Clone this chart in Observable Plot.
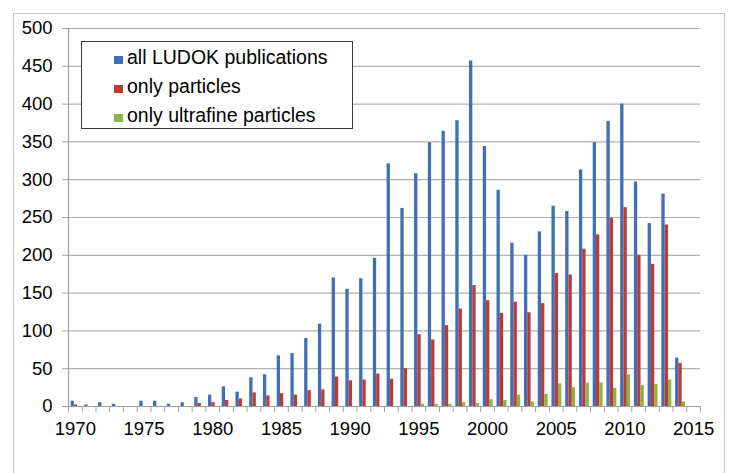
<!DOCTYPE html>
<html>
<head>
<meta charset="utf-8">
<script src="https://cdn.jsdelivr.net/npm/d3@7"></script>
<script src="https://cdn.jsdelivr.net/npm/@observablehq/plot@0.6"></script>
<style>
  html, body { margin: 0; padding: 0; background: #fff; }
  #wrap { position: relative; width: 732px; height: 473px; overflow: hidden; font-family: "Liberation Sans", Arial, sans-serif; }
  #frame { position: absolute; left: 13px; top: 13px; width: 712px; height: 500px; border: 1.5px solid #c4c4c4; box-sizing: border-box; }
  #chart { position: absolute; left: 0; top: 0; }
  #legend { position: absolute; left: 81px; top: 41px; width: 272px; height: 88px; box-sizing: border-box; border: 1px solid #3a3a3a; background: #fff; padding-top: 1px; padding-left: 32px; }
  .row { font-size: 19.5px; line-height: 29px; color: #000; white-space: nowrap; }
  .sw { display: inline-block; width: 9px; height: 8px; margin-right: 4px; vertical-align: baseline; }
</style>
</head>
<body>
<div id="wrap">
  <div id="frame"></div>
  <div id="chart"></div>
  <div id="legend"></div>
</div>
<script>
const years = d3.range(1970, 2015);
const allLudok = [7, 2, 5, 3, 0, 7, 7, 3, 5, 12, 15, 26, 19, 38, 42, 67, 70, 90, 109, 170, 155, 169, 196, 321, 262, 308, 349, 364, 378, 457, 344, 286, 216, 200, 231, 265, 258, 313, 349, 377, 400, 297, 242, 281, 64];
const onlyParticles = [2, 0, 0, 0, 0, 0, 0, 0, 0, 4, 5, 8, 10, 18, 14, 17, 15, 21, 22, 39, 34, 35, 43, 36, 50, 95, 88, 107, 129, 160, 140, 123, 138, 124, 136, 176, 174, 208, 227, 249, 263, 200, 188, 240, 57];
const onlyUltrafine = [0, 0, 0, 0, 0, 0, 0, 0, 0, 0, 0, 0, 0, 0, 0, 0, 0, 0, 0, 0, 0, 0, 0, 0, 0, 3, 3, 3, 5, 4, 9, 8, 15, 6, 16, 30, 25, 31, 31, 24, 42, 28, 29, 35, 6];
const seriesNames = ["all LUDOK publications", "only particles", "only ultrafine particles"];
const xTickLabels = [1970, 1975, 1980, 1985, 1990, 1995, 2000, 2005, 2010, 2015];
const yTicks = d3.range(0, 501, 50);

const colors = ["#3f6fb7", "#bd3a35", "#8cb443"];
const seriesValues = [allLudok, onlyParticles, onlyUltrafine];

const data = [];
seriesValues.forEach((vals, s) => {
  vals.forEach((v, i) => data.push({year: years[i], series: s, value: v}));
});

const bandPx = (700 - 68) / 46;
const barW = 3.3;
const startOff = 2.6;

const marks = [
  Plot.gridY({ticks: yTicks, stroke: "#b0b0b0", strokeOpacity: 1, strokeWidth: 1.2}),
  Plot.axisY({ticks: yTicks, tickSize: 6, tickPadding: 10, stroke: "#a0a0a0", fontSize: 18.5, fill: "#000", label: null, tickFormat: d => String(d)}),
  Plot.axisX({ticks: d3.range(1969.5, 2016, 1), tickSize: 6, tickFormat: () => "", stroke: "#a0a0a0", label: null}),
  Plot.axisX({ticks: xTickLabels, tickSize: 0, tickPadding: 15, fontSize: 18.5, fill: "#000", label: null, tickFormat: d => String(d)})
];
seriesValues.forEach((vals, s) => {
  marks.push(Plot.rectY(data.filter(d => d.series === s && d.value > 0), {
    x1: d => d.year - 0.5,
    x2: d => d.year + 0.5,
    y: "value",
    fill: colors[s],
    insetLeft: startOff + s * barW,
    insetRight: bandPx - startOff - (s + 1) * barW
  }));
});
marks.push(Plot.ruleX([1969.5], {stroke: "#a0a0a0", strokeWidth: 1.2}));
marks.push(Plot.ruleY([0], {stroke: "#a0a0a0", strokeWidth: 1.2}));

const chart = Plot.plot({
  width: 732,
  height: 473,
  marginLeft: 68,
  marginRight: 32,
  marginTop: 28,
  marginBottom: 67,
  style: {background: "transparent", fontFamily: "'Liberation Sans', Arial, sans-serif"},
  x: {type: "linear", domain: [1969.5, 2015.5]},
  y: {domain: [0, 500]},
  marks
});
document.getElementById("chart").appendChild(chart);

const legend = document.getElementById("legend");
seriesNames.forEach((name, i) => {
  const row = document.createElement("div");
  row.className = "row";
  const sw = document.createElement("span");
  sw.className = "sw";
  sw.style.background = colors[i];
  row.appendChild(sw);
  row.appendChild(document.createTextNode(name));
  legend.appendChild(row);
});
</script>
</body>
</html>
